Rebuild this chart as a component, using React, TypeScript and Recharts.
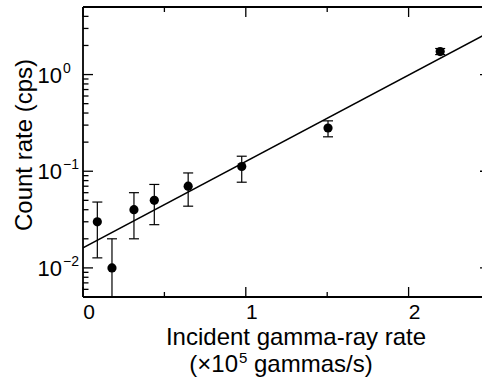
import { ComposedChart, Scatter, Line, XAxis, YAxis, ErrorBar } from 'recharts';

// measured points (incident rate in 1e5 gammas/s, count rate in cps)
const incidentRate = [0.088, 0.178, 0.313, 0.438, 0.646, 0.975, 1.505, 2.194];
const countRate = [0.03, 0.01, 0.04, 0.05, 0.07, 0.112, 0.28, 1.73];
const countLow = [0.0127, 0.005, 0.02, 0.028, 0.0435, 0.077, 0.227, 1.61];
const countHigh = [0.048, 0.02, 0.06, 0.073, 0.096, 0.143, 0.332, 1.86];

// fitted line end points
const fitX = [0, 2.5];
const fitY = [0.0161, 2.77];

const xDomain = [0, 2.5];
const yDomain = [0.005, 5];
const xTicks = [0, 0.5, 1, 1.5, 2];
const yTicks = [
  0.005, 0.006, 0.007, 0.008, 0.009,
  0.01, 0.02, 0.03, 0.04, 0.05, 0.06, 0.07, 0.08, 0.09,
  0.1, 0.2, 0.3, 0.4, 0.5, 0.6, 0.7, 0.8, 0.9,
  1, 2, 3, 4, 5,
];

const points = incidentRate.map((x, i) => ({
  x,
  y: countRate[i],
  err: [countRate[i] - countLow[i], countHigh[i] - countRate[i]],
}));
const fitLine = fitX.map((x, i) => ({ x, fit: fitY[i] }));

const FONT = '"Liberation Sans", Arial, sans-serif';

// layout
const CHART_W = 491;
const CHART_H = 385;
const MARGIN = { top: 7, right: 1, bottom: 0, left: 0 };
const Y_AXIS_W = 83;
const X_AXIS_H = 88;
const PLOT_L = MARGIN.left + Y_AXIS_W;
const PLOT_T = MARGIN.top;
const PLOT_W = CHART_W - MARGIN.left - MARGIN.right - Y_AXIS_W;
const PLOT_H = CHART_H - MARGIN.top - MARGIN.bottom - X_AXIS_H;

const isDecade = (v: number) => {
  const lg = Math.log10(v);
  return Math.abs(lg - Math.round(lg)) < 1e-6;
};

const XTick = ({ x, y, payload }: any) => {
  const v = payload.value;
  const major = Number.isInteger(v);
  return (
    <g>
      <line x1={x} x2={x} y1={y} y2={y - (major ? 10 : 5)} stroke="#000" strokeWidth={1.3} />
      {major && (
        <text x={x + 6} y={y + 22} textAnchor="middle" fontSize={21} fontFamily={FONT} fill="#000">
          {v}
        </text>
      )}
    </g>
  );
};

const YTick = ({ x, y, payload }: any) => {
  const v = payload.value;
  const major = isDecade(v);
  const exp = Math.round(Math.log10(v));
  return (
    <g>
      <line x1={x} x2={x + (major ? 10 : 5.5)} y1={y} y2={y} stroke="#000" strokeWidth={1.3} />
      {major && (
        <g fontFamily={FONT} fill="#000">
          <text x={x - 21} y={y + 8} textAnchor="end" fontSize={22}>10</text>
          <text x={x - 20} y={y - 2} fontSize={14}>{exp < 0 ? `\u2212${-exp}` : exp}</text>
        </g>
      )}
    </g>
  );
};

// top and right edges of the box with mirrored inward ticks
const FrameOverlay = () => {
  const px = (v: number) => PLOT_L + ((v - xDomain[0]) / (xDomain[1] - xDomain[0])) * PLOT_W;
  const lo = Math.log10(yDomain[0]);
  const hi = Math.log10(yDomain[1]);
  const py = (v: number) => PLOT_T + ((hi - Math.log10(v)) / (hi - lo)) * PLOT_H;
  const right = PLOT_L + PLOT_W;
  return (
    <svg width={CHART_W} height={CHART_H} style={{ position: 'absolute', left: 0, top: 0, pointerEvents: 'none' }}>
      <line x1={PLOT_L} x2={right} y1={PLOT_T} y2={PLOT_T} stroke="#000" strokeWidth={1.8} />
      <line x1={right} x2={right} y1={PLOT_T} y2={PLOT_T + PLOT_H} stroke="#000" strokeWidth={1.8} />
      {xTicks.map((v) => (
        <line key={`tx${v}`} x1={px(v)} x2={px(v)} y1={PLOT_T} y2={PLOT_T + (Number.isInteger(v) ? 10 : 5)} stroke="#000" strokeWidth={1.3} />
      ))}
      {yTicks.map((v) => (
        <line key={`ty${v}`} x1={right} x2={right - (isDecade(v) ? 10 : 5.5)} y1={py(v)} y2={py(v)} stroke="#000" strokeWidth={1.3} />
      ))}
    </svg>
  );
};

export default function App() {
  return (
    <div style={{ position: 'absolute', left: 0, top: 0, width: 482, height: 385, overflow: 'hidden', background: '#fff' }}>
      <ComposedChart width={CHART_W} height={CHART_H} margin={MARGIN}>
        <XAxis
          dataKey="x"
          type="number"
          domain={xDomain}
          allowDataOverflow
          ticks={xTicks}
          interval={0}
          height={X_AXIS_H}
          tickSize={0}
          tickMargin={0}
          tickLine={false}
          axisLine={{ stroke: '#000', strokeWidth: 1.8 }}
          tick={<XTick />}
          label={{
            content: () => (
              <g fontFamily={FONT} fontSize={24} fill="#000">
                <text x={296} y={345} textAnchor="middle">Incident gamma-ray rate</text>
                <text x={238} y={372} textAnchor="end">(×10</text>
                <text x={239} y={363} fontSize={15}>5</text>
                <text x={254} y={372}>gammas/s)</text>
              </g>
            ),
          }}
        />
        <YAxis
          scale="log"
          type="number"
          domain={yDomain}
          allowDataOverflow
          ticks={yTicks}
          interval={0}
          width={Y_AXIS_W}
          tickSize={0}
          tickMargin={0}
          tickLine={false}
          axisLine={{ stroke: '#000', strokeWidth: 1.8 }}
          tick={<YTick />}
          label={{
            content: () => (
              <text transform="translate(32,145) rotate(-90)" textAnchor="middle" fontSize={24} fontFamily={FONT} fill="#000">
                Count rate (cps)
              </text>
            ),
          }}
        />
        <Line
          data={fitLine}
          dataKey="fit"
          type="linear"
          stroke="#000"
          strokeWidth={1.5}
          dot={false}
          activeDot={false}
          isAnimationActive={false}
        />
        <Scatter
          data={points}
          dataKey="y"
          isAnimationActive={false}
          shape={(p: any) => <circle cx={p.cx} cy={p.cy} r={4.6} fill="#000" />}
        >
          <ErrorBar dataKey="err" direction="y" width={5} stroke="#000" strokeWidth={1.2} isAnimationActive={false} />
        </Scatter>
      </ComposedChart>
      <FrameOverlay />
    </div>
  );
}
